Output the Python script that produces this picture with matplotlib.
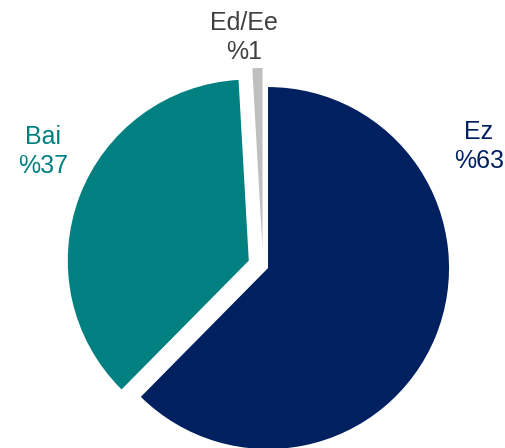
import matplotlib
matplotlib.use("Agg")
import matplotlib.pyplot as plt

plt.rcParams['font.family'] = ['Liberation Sans', 'DejaVu Sans']

# answers and their shares (percent)
labels = ["Ez", "Bai", "Ed/Ee"]
values = [62.4, 36.7, 0.9]
pct_labels = ["%63", "%37", "%1"]
colors = ["#002060", "#008080", "#BFBFBF"]
text_colors = ["#002060", "#008080", "#404040"]
explode = [0.03, 0.084, 0.094]  # fraction of radius

R = 181
# label anchor points (pixel coords, y up), first line baseline
label_pos = [(479, 448 - 139), (43, 448 - 144), (244, 448 - 30)]

fig = plt.figure(figsize=(5.06, 4.48), dpi=100)
ax = fig.add_axes([0, 0, 1, 1])

# matplotlib's explode is in data units, so scale it by the radius
ax.pie(values, colors=colors, explode=[e * R for e in explode], startangle=90,
       counterclock=False, radius=R, center=(263, 182),
       frame=True, wedgeprops={"linewidth": 0})
ax.set_xlim(0, 506)
ax.set_ylim(0, 448)
ax.set_aspect("equal")
ax.axis("off")

for lab, pct, c, (x, y) in zip(labels, pct_labels, text_colors, label_pos):
    ax.text(x, y, lab, color=c, fontsize=18, ha="center", va="baseline")
    ax.text(x, y - 29, pct, color=c, fontsize=18, ha="center", va="baseline")

fig.savefig("out.png", dpi=100)
